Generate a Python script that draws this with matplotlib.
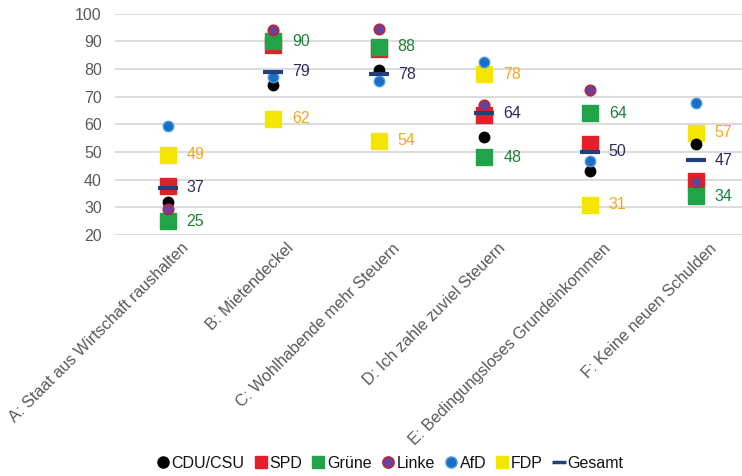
import matplotlib.pyplot as plt
import matplotlib.transforms as mtransforms
import numpy as np
from matplotlib.lines import Line2D

plt.rcParams['font.family'] = ['Liberation Sans', 'DejaVu Sans']

categories = ["A: Staat aus Wirtschaft raushalten", "B: Mietendeckel",
              "C: Wohlhabende mehr Steuern", "D: Ich zahle zuviel Steuern",
              "E: Bedingungsloses Grundeinkommen", "F: Keine neuen Schulden"]

cdu = [32, 74, 79.5, 55.3, 43, 53]
spd = [37.6, 88.5, 87, 63.4, 53, 39.5]
gruene = [25, 90, 88, 48, 64, 34]
linke = [29.3, 94, 94.3, 67, 72.4, 39]
afd = [59.5, 77.2, 75.7, 82.5, 46.9, 67.8]
fdp = [49, 62, 54, 78, 31, 57]
gesamt = [37, 79, 78, 64, 50, 47]

x = np.arange(len(categories))

fig = plt.figure(figsize=(7.42, 4.76), dpi=100)
ax = fig.add_axes([115 / 742, 1 - 235 / 476, 1 - 115 / 742, (235 - 13.5) / 476])

ax.set_ylim(20, 100)
ax.set_xlim(-0.5, 5.44)
ax.set_yticks(np.arange(20, 101, 10))
ax.grid(axis='y', color='#d9d9d9', lw=1.3)
ax.set_axisbelow(True)
for s in ax.spines.values():
    s.set_visible(False)
ax.tick_params(axis='y', length=0, pad=9.5, labelsize=11.5, labelcolor='#595959')
ax.tick_params(axis='x', length=0, pad=4, labelsize=11.7, labelcolor='#595959')

ax.set_xticks(x)
ax.set_xticklabels(categories, rotation=45, ha='right', va='top', rotation_mode='anchor')
shift = mtransforms.ScaledTranslation(0.13, 0, fig.dpi_scale_trans)
for lbl in ax.get_xticklabels():
    lbl.set_transform(lbl.get_transform() + shift)

sq = 11
ci = 7.5
ax.plot(x, fdp, 's', ms=sq, color='#f5e600', ls='none', zorder=3)
ax.plot(x, spd, 's', ms=sq, color='#e3202a', ls='none', zorder=3)
ax.plot(x, gruene, 's', ms=sq, color='#21a34a', ls='none', zorder=3)
ax.plot(x, cdu, 'o', ms=ci, color='black', ls='none', zorder=4)
ax.plot(x, linke, 'o', ms=ci, mfc='#6b3fa0', mec='#c0272d', mew=1.2, ls='none', zorder=4)
ax.plot(x, afd, 'o', ms=ci, mfc='#1a6fc4', mec='#4d9ce0', mew=1.0, ls='none', zorder=4)
ax.plot(x, gesamt, '_', ms=14, mew=3, color='#203f7c', ls='none', zorder=5)

for xi, g, f, t in zip(x, gruene, fdp, gesamt):
    ax.annotate(f"{g:.0f}", (xi, g), xytext=(13.5, 0), textcoords='offset points',
                va='center', ha='left', fontsize=11.5, color='#1f8038')
    ax.annotate(f"{f:.0f}", (xi, f), xytext=(13.5, 0), textcoords='offset points',
                va='center', ha='left', fontsize=11.5, color='#f5a81c')
    ax.annotate(f"{t:.0f}", (xi, t), xytext=(13.5, 0), textcoords='offset points',
                va='center', ha='left', fontsize=11.5, color='#2d2b5e')

handles = [
    Line2D([], [], marker='o', ls='none', ms=8, color='black'),
    Line2D([], [], marker='s', ls='none', ms=9, color='#e3202a'),
    Line2D([], [], marker='s', ls='none', ms=9, color='#21a34a'),
    Line2D([], [], marker='o', ls='none', ms=8, mfc='#6b3fa0', mec='#c0272d', mew=1.2),
    Line2D([], [], marker='o', ls='none', ms=8, mfc='#1a6fc4', mec='#4d9ce0'),
    Line2D([], [], marker='s', ls='none', ms=9, color='#f5e600'),
    Line2D([], [], marker='_', ls='none', ms=10, mew=2.5, color='#203f7c'),
]
names = ["CDU/CSU", "SPD", "Grüne", "Linke", "AfD", "FDP", "Gesamt"]
fig.legend(handles, names, loc='center', bbox_to_anchor=(390 / 742, 1 - 463 / 476),
           ncol=7, frameon=False, fontsize=11.5, handlelength=0.8, handletextpad=0.15,
           columnspacing=0.6, labelcolor='#111111')

fig.savefig('out.png', dpi=100)
